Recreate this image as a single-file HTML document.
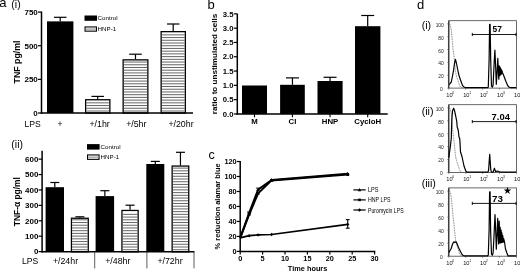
<!DOCTYPE html>
<html lang="en"><head><meta charset="utf-8"><title>Figure</title>
<style>html,body{margin:0;padding:0;background:#fff;overflow:hidden}svg{display:block}text{font-family:'Liberation Sans', Arial, Helvetica, sans-serif}</style>
</head><body>
<svg width="520" height="271" viewBox="0 0 520 271">
<defs><pattern id="hatch" width="4" height="2.06" patternUnits="userSpaceOnUse"><rect width="4" height="2.06" fill="#fff"/><rect y="0.6" width="4" height="0.85" fill="#222"/></pattern></defs>
<rect width="520" height="271" fill="#fff"/>
<g id="panel-a-i">
<text x="-0.7" y="6.8" font-size="13">a</text>
<text x="11.3" y="7.9" font-size="10.5">(i)</text>
<rect x="47.00" y="21.38" width="26.40" height="91.62" fill="#000"/>
<line x1="60.2" y1="17.3" x2="60.2" y2="21.382800000000003" stroke="#000" stroke-width="1.2"/>
<line x1="53.95" y1="17.3" x2="66.45" y2="17.3" stroke="#000" stroke-width="1.2"/>
<rect x="85.65" y="99.75" width="24.20" height="13.25" fill="#fff" stroke="#000" stroke-width="1.3"/>
<path d="M86.3,102.84H109.2M86.3,105.56H109.2M86.3,108.28H109.2M86.3,111.00H109.2" stroke="#555" stroke-width="0.9" fill="none"/>
<line x1="97.7" y1="96.4" x2="97.7" y2="99.1" stroke="#000" stroke-width="1.2"/>
<line x1="91.45" y1="96.4" x2="103.95" y2="96.4" stroke="#000" stroke-width="1.2"/>
<rect x="123.15" y="59.85" width="24.70" height="53.15" fill="#fff" stroke="#000" stroke-width="1.3"/>
<path d="M123.8,62.04H147.2M123.8,64.76H147.2M123.8,67.48H147.2M123.8,70.20H147.2M123.8,72.92H147.2M123.8,75.64H147.2M123.8,78.36H147.2M123.8,81.08H147.2M123.8,83.80H147.2M123.8,86.52H147.2M123.8,89.24H147.2M123.8,91.96H147.2M123.8,94.68H147.2M123.8,97.40H147.2M123.8,100.12H147.2M123.8,102.84H147.2M123.8,105.56H147.2M123.8,108.28H147.2M123.8,111.00H147.2" stroke="#555" stroke-width="0.9" fill="none"/>
<line x1="135.5" y1="54.2" x2="135.5" y2="59.2" stroke="#000" stroke-width="1.2"/>
<line x1="129.25" y1="54.2" x2="141.75" y2="54.2" stroke="#000" stroke-width="1.2"/>
<rect x="161.15" y="31.65" width="24.20" height="81.35" fill="#fff" stroke="#000" stroke-width="1.3"/>
<path d="M161.8,34.84H184.7M161.8,37.56H184.7M161.8,40.28H184.7M161.8,43.00H184.7M161.8,45.72H184.7M161.8,48.44H184.7M161.8,51.16H184.7M161.8,53.88H184.7M161.8,56.60H184.7M161.8,59.32H184.7M161.8,62.04H184.7M161.8,64.76H184.7M161.8,67.48H184.7M161.8,70.20H184.7M161.8,72.92H184.7M161.8,75.64H184.7M161.8,78.36H184.7M161.8,81.08H184.7M161.8,83.80H184.7M161.8,86.52H184.7M161.8,89.24H184.7M161.8,91.96H184.7M161.8,94.68H184.7M161.8,97.40H184.7M161.8,100.12H184.7M161.8,102.84H184.7M161.8,105.56H184.7M161.8,108.28H184.7M161.8,111.00H184.7" stroke="#555" stroke-width="0.9" fill="none"/>
<line x1="173.2" y1="24.0" x2="173.2" y2="31.0" stroke="#000" stroke-width="1.2"/>
<line x1="166.95" y1="24.0" x2="179.45" y2="24.0" stroke="#000" stroke-width="1.2"/>
<line x1="41.5" y1="11.499999999999995" x2="41.5" y2="113.7" stroke="#000" stroke-width="1.5"/>
<line x1="40.75" y1="113.0" x2="193" y2="113.0" stroke="#000" stroke-width="1.5"/>
<line x1="38.0" y1="113.0" x2="41.5" y2="113.0" stroke="#000" stroke-width="1.2"/>
<text x="37.8" y="115.8" font-size="8" font-weight="700" text-anchor="end">0</text>
<line x1="38.0" y1="79.36666666666667" x2="41.5" y2="79.36666666666667" stroke="#000" stroke-width="1.2"/>
<text x="37.8" y="82.16666666666667" font-size="8" font-weight="700" text-anchor="end">250</text>
<line x1="38.0" y1="45.733333333333334" x2="41.5" y2="45.733333333333334" stroke="#000" stroke-width="1.2"/>
<text x="37.8" y="48.53333333333333" font-size="8" font-weight="700" text-anchor="end">500</text>
<line x1="38.0" y1="12.099999999999994" x2="41.5" y2="12.099999999999994" stroke="#000" stroke-width="1.2"/>
<text x="37.8" y="14.899999999999995" font-size="8" font-weight="700" text-anchor="end">750</text>
<text x="19.9" y="62.0" font-size="8.8" font-weight="700" text-anchor="middle" transform="rotate(-90 19.9 62.0)">TNF pg/ml</text>
<rect x="84.50" y="15.50" width="12.50" height="5.30" fill="#000"/>
<rect x="85.05" y="26.95" width="11.40" height="4.20" fill="#fff" stroke="#000" stroke-width="1.1"/>
<line x1="85.7" y1="29.049999999999997" x2="95.8" y2="29.049999999999997" stroke="#777" stroke-width="0.9"/>
<text x="97.6" y="20.4" font-size="6.2">Control</text>
<text x="97.6" y="31.3" font-size="6.2">HNP-1</text>
<text x="24.5" y="127.2" font-size="8.6">LPS</text>
<text x="60" y="127.2" font-size="8.6" text-anchor="middle">+</text>
<text x="99.6" y="127.2" font-size="8.8" text-anchor="middle">+/1hr</text>
<text x="136.3" y="127.2" font-size="8.8" text-anchor="middle">+/5hr</text>
<text x="181" y="127.2" font-size="8.8" text-anchor="middle">+/20hr</text>
</g>
<g id="panel-a-ii">
<text x="11.3" y="147.6" font-size="10.5">(ii)</text>
<rect x="45.60" y="187.20" width="18.40" height="64.60" fill="#000"/>
<line x1="54.8" y1="182.5" x2="54.8" y2="187.2" stroke="#000" stroke-width="1.2"/>
<line x1="50.3" y1="182.5" x2="59.3" y2="182.5" stroke="#000" stroke-width="1.2"/>
<rect x="71.45" y="218.25" width="16.80" height="33.55" fill="#fff" stroke="#000" stroke-width="1.3"/>
<path d="M72.1,219.80H87.6M72.1,222.52H87.6M72.1,225.24H87.6M72.1,227.96H87.6M72.1,230.68H87.6M72.1,233.40H87.6M72.1,236.12H87.6M72.1,238.84H87.6M72.1,241.56H87.6M72.1,244.28H87.6M72.1,247.00H87.6M72.1,249.72H87.6" stroke="#555" stroke-width="0.9" fill="none"/>
<line x1="79.85" y1="216.8" x2="79.85" y2="217.6" stroke="#000" stroke-width="1.2"/>
<line x1="75.35" y1="216.8" x2="84.35" y2="216.8" stroke="#000" stroke-width="1.2"/>
<rect x="95.60" y="196.10" width="18.50" height="55.70" fill="#000"/>
<line x1="104.85" y1="190.7" x2="104.85" y2="196.1" stroke="#000" stroke-width="1.2"/>
<line x1="100.35" y1="190.7" x2="109.35" y2="190.7" stroke="#000" stroke-width="1.2"/>
<rect x="121.95" y="210.45" width="16.20" height="41.35" fill="#fff" stroke="#000" stroke-width="1.3"/>
<path d="M122.6,214.36H137.5M122.6,217.08H137.5M122.6,219.80H137.5M122.6,222.52H137.5M122.6,225.24H137.5M122.6,227.96H137.5M122.6,230.68H137.5M122.6,233.40H137.5M122.6,236.12H137.5M122.6,238.84H137.5M122.6,241.56H137.5M122.6,244.28H137.5M122.6,247.00H137.5M122.6,249.72H137.5" stroke="#555" stroke-width="0.9" fill="none"/>
<line x1="130.05" y1="205.2" x2="130.05" y2="209.8" stroke="#000" stroke-width="1.2"/>
<line x1="125.55000000000001" y1="205.2" x2="134.55" y2="205.2" stroke="#000" stroke-width="1.2"/>
<rect x="146.30" y="164.00" width="18.00" height="87.80" fill="#000"/>
<line x1="155.3" y1="161.4" x2="155.3" y2="164.0" stroke="#000" stroke-width="1.2"/>
<line x1="150.8" y1="161.4" x2="159.8" y2="161.4" stroke="#000" stroke-width="1.2"/>
<rect x="172.15" y="166.05" width="16.60" height="85.75" fill="#fff" stroke="#000" stroke-width="1.3"/>
<path d="M172.8,168.12H188.1M172.8,170.84H188.1M172.8,173.56H188.1M172.8,176.28H188.1M172.8,179.00H188.1M172.8,181.72H188.1M172.8,184.44H188.1M172.8,187.16H188.1M172.8,189.88H188.1M172.8,192.60H188.1M172.8,195.32H188.1M172.8,198.04H188.1M172.8,200.76H188.1M172.8,203.48H188.1M172.8,206.20H188.1M172.8,208.92H188.1M172.8,211.64H188.1M172.8,214.36H188.1M172.8,217.08H188.1M172.8,219.80H188.1M172.8,222.52H188.1M172.8,225.24H188.1M172.8,227.96H188.1M172.8,230.68H188.1M172.8,233.40H188.1M172.8,236.12H188.1M172.8,238.84H188.1M172.8,241.56H188.1M172.8,244.28H188.1M172.8,247.00H188.1M172.8,249.72H188.1" stroke="#555" stroke-width="0.9" fill="none"/>
<line x1="180.45" y1="152.3" x2="180.45" y2="165.4" stroke="#000" stroke-width="1.2"/>
<line x1="175.95" y1="152.3" x2="184.95" y2="152.3" stroke="#000" stroke-width="1.2"/>
<line x1="42.1" y1="150.7" x2="42.1" y2="252.5" stroke="#000" stroke-width="1.5"/>
<line x1="41.35" y1="251.8" x2="194.4" y2="251.8" stroke="#000" stroke-width="1.5"/>
<line x1="38.6" y1="251.6" x2="42.1" y2="251.6" stroke="#000" stroke-width="1.2"/>
<text x="38.4" y="254.4" font-size="8" font-weight="700" text-anchor="end">0</text>
<line x1="38.6" y1="236.19" x2="42.1" y2="236.19" stroke="#000" stroke-width="1.2"/>
<text x="38.4" y="238.99" font-size="8" font-weight="700" text-anchor="end">100</text>
<line x1="38.6" y1="220.78" x2="42.1" y2="220.78" stroke="#000" stroke-width="1.2"/>
<text x="38.4" y="223.58" font-size="8" font-weight="700" text-anchor="end">200</text>
<line x1="38.6" y1="205.37" x2="42.1" y2="205.37" stroke="#000" stroke-width="1.2"/>
<text x="38.4" y="208.17000000000002" font-size="8" font-weight="700" text-anchor="end">300</text>
<line x1="38.6" y1="189.96" x2="42.1" y2="189.96" stroke="#000" stroke-width="1.2"/>
<text x="38.4" y="192.76000000000002" font-size="8" font-weight="700" text-anchor="end">400</text>
<line x1="38.6" y1="174.55" x2="42.1" y2="174.55" stroke="#000" stroke-width="1.2"/>
<text x="38.4" y="177.35000000000002" font-size="8" font-weight="700" text-anchor="end">500</text>
<line x1="38.6" y1="159.14" x2="42.1" y2="159.14" stroke="#000" stroke-width="1.2"/>
<text x="38.4" y="161.94" font-size="8" font-weight="700" text-anchor="end">600</text>
<text x="20.2" y="201.7" font-size="8.4" font-weight="700" text-anchor="middle" transform="rotate(-90 20.2 201.7)">TNF-α pg/ml</text>
<line x1="94.7" y1="251.8" x2="94.7" y2="268.4" stroke="#333" stroke-width="0.8"/>
<line x1="146.9" y1="251.8" x2="146.9" y2="268.4" stroke="#333" stroke-width="0.8"/>
<line x1="194" y1="251.8" x2="194" y2="268.4" stroke="#333" stroke-width="0.8"/>
<rect x="87.00" y="144.10" width="12.60" height="5.50" fill="#000"/>
<rect x="87.55" y="154.95" width="11.50" height="4.40" fill="#fff" stroke="#000" stroke-width="1.1"/>
<line x1="88.2" y1="157.15" x2="98.39999999999999" y2="157.15" stroke="#777" stroke-width="0.9"/>
<text x="100.6" y="148.9" font-size="6.2">Control</text>
<text x="100.6" y="159.4" font-size="6.2">HNP-1</text>
<text x="22" y="264.0" font-size="8.6">LPS</text>
<text x="65.5" y="264.0" font-size="8.8" text-anchor="middle">+/24hr</text>
<text x="117.8" y="264.0" font-size="8.8" text-anchor="middle">+/48hr</text>
<text x="170" y="264.0" font-size="8.8" text-anchor="middle">+/72hr</text>
</g>
<g id="panel-b">
<text x="207.6" y="8.5" font-size="13">b</text>
<rect x="242.00" y="85.50" width="25.00" height="28.45" fill="#000"/>
<line x1="254.5" y1="113.95" x2="254.5" y2="117.35000000000001" stroke="#000" stroke-width="1.1"/>
<text x="254.5" y="124.0" font-size="7.8" font-weight="700" text-anchor="middle">M</text>
<rect x="280.10" y="84.80" width="24.70" height="29.15" fill="#000"/>
<line x1="292.45000000000005" y1="77.9" x2="292.45000000000005" y2="84.8" stroke="#000" stroke-width="1.2"/>
<line x1="285.95000000000005" y1="77.9" x2="298.95000000000005" y2="77.9" stroke="#000" stroke-width="1.2"/>
<line x1="292.45000000000005" y1="113.95" x2="292.45000000000005" y2="117.35000000000001" stroke="#000" stroke-width="1.1"/>
<text x="292.45000000000005" y="124.0" font-size="7.8" font-weight="700" text-anchor="middle">CI</text>
<rect x="317.50" y="81.00" width="25.10" height="32.95" fill="#000"/>
<line x1="330.05" y1="77.3" x2="330.05" y2="81" stroke="#000" stroke-width="1.2"/>
<line x1="323.55" y1="77.3" x2="336.55" y2="77.3" stroke="#000" stroke-width="1.2"/>
<line x1="330.05" y1="113.95" x2="330.05" y2="117.35000000000001" stroke="#000" stroke-width="1.1"/>
<text x="330.05" y="124.0" font-size="7.8" font-weight="700" text-anchor="middle">HNP</text>
<rect x="355.00" y="26.20" width="25.40" height="87.75" fill="#000"/>
<line x1="367.7" y1="15.5" x2="367.7" y2="26.2" stroke="#000" stroke-width="1.2"/>
<line x1="361.2" y1="15.5" x2="374.2" y2="15.5" stroke="#000" stroke-width="1.2"/>
<line x1="367.7" y1="113.95" x2="367.7" y2="117.35000000000001" stroke="#000" stroke-width="1.1"/>
<text x="367.7" y="124.0" font-size="7.8" font-weight="700" text-anchor="middle">CycloH</text>
<line x1="237.3" y1="13.7" x2="237.3" y2="114.65" stroke="#000" stroke-width="1.5"/>
<line x1="236.55" y1="113.95" x2="387.7" y2="113.95" stroke="#000" stroke-width="1.5"/>
<line x1="233.8" y1="113.95" x2="237.3" y2="113.95" stroke="#000" stroke-width="1.2"/>
<text x="233.5" y="116.65" font-size="7.7" font-weight="700" text-anchor="end">0.0</text>
<line x1="233.8" y1="99.65" x2="237.3" y2="99.65" stroke="#000" stroke-width="1.2"/>
<text x="233.5" y="102.35000000000001" font-size="7.7" font-weight="700" text-anchor="end">0.5</text>
<line x1="233.8" y1="85.35" x2="237.3" y2="85.35" stroke="#000" stroke-width="1.2"/>
<text x="233.5" y="88.05" font-size="7.7" font-weight="700" text-anchor="end">1.0</text>
<line x1="233.8" y1="71.05" x2="237.3" y2="71.05" stroke="#000" stroke-width="1.2"/>
<text x="233.5" y="73.75" font-size="7.7" font-weight="700" text-anchor="end">1.5</text>
<line x1="233.8" y1="56.75" x2="237.3" y2="56.75" stroke="#000" stroke-width="1.2"/>
<text x="233.5" y="59.45" font-size="7.7" font-weight="700" text-anchor="end">2.0</text>
<line x1="233.8" y1="42.45" x2="237.3" y2="42.45" stroke="#000" stroke-width="1.2"/>
<text x="233.5" y="45.150000000000006" font-size="7.7" font-weight="700" text-anchor="end">2.5</text>
<line x1="233.8" y1="28.14999999999999" x2="237.3" y2="28.14999999999999" stroke="#000" stroke-width="1.2"/>
<text x="233.5" y="30.84999999999999" font-size="7.7" font-weight="700" text-anchor="end">3.0</text>
<line x1="233.8" y1="13.849999999999994" x2="237.3" y2="13.849999999999994" stroke="#000" stroke-width="1.2"/>
<text x="233.5" y="16.549999999999994" font-size="7.7" font-weight="700" text-anchor="end">3.5</text>
<text x="217.0" y="64.0" font-size="8.1" font-weight="700" text-anchor="middle" transform="rotate(-90 217.0 64.0)">ratio to unstimulated cells</text>
</g>
<g id="panel-c">
<text x="208.6" y="159.1" font-size="12.5">c</text>
<line x1="240.2" y1="160.9" x2="240.2" y2="252.1" stroke="#000" stroke-width="1.5"/>
<line x1="239.45" y1="251.4" x2="375.3" y2="251.4" stroke="#000" stroke-width="1.5"/>
<line x1="236.7" y1="251.4" x2="240.2" y2="251.4" stroke="#000" stroke-width="1.2"/>
<text x="236.6" y="254.0" font-size="7.3" font-weight="700" text-anchor="end">0</text>
<line x1="236.7" y1="236.42000000000002" x2="240.2" y2="236.42000000000002" stroke="#000" stroke-width="1.2"/>
<text x="236.6" y="239.02" font-size="7.3" font-weight="700" text-anchor="end">20</text>
<line x1="236.7" y1="221.44" x2="240.2" y2="221.44" stroke="#000" stroke-width="1.2"/>
<text x="236.6" y="224.04" font-size="7.3" font-weight="700" text-anchor="end">40</text>
<line x1="236.7" y1="206.46" x2="240.2" y2="206.46" stroke="#000" stroke-width="1.2"/>
<text x="236.6" y="209.06" font-size="7.3" font-weight="700" text-anchor="end">60</text>
<line x1="236.7" y1="191.48000000000002" x2="240.2" y2="191.48000000000002" stroke="#000" stroke-width="1.2"/>
<text x="236.6" y="194.08" font-size="7.3" font-weight="700" text-anchor="end">80</text>
<line x1="236.7" y1="176.5" x2="240.2" y2="176.5" stroke="#000" stroke-width="1.2"/>
<text x="236.6" y="179.1" font-size="7.3" font-weight="700" text-anchor="end">100</text>
<line x1="236.7" y1="161.52" x2="240.2" y2="161.52" stroke="#000" stroke-width="1.2"/>
<text x="236.6" y="164.12" font-size="7.3" font-weight="700" text-anchor="end">120</text>
<line x1="240.2" y1="251.4" x2="240.2" y2="254.4" stroke="#000" stroke-width="1.2"/>
<text x="240.2" y="261.4" font-size="7.3" font-weight="700" text-anchor="middle">0</text>
<line x1="262.59999999999997" y1="251.4" x2="262.59999999999997" y2="254.4" stroke="#000" stroke-width="1.2"/>
<text x="262.59999999999997" y="261.4" font-size="7.3" font-weight="700" text-anchor="middle">5</text>
<line x1="285.0" y1="251.4" x2="285.0" y2="254.4" stroke="#000" stroke-width="1.2"/>
<text x="285.0" y="261.4" font-size="7.3" font-weight="700" text-anchor="middle">10</text>
<line x1="307.4" y1="251.4" x2="307.4" y2="254.4" stroke="#000" stroke-width="1.2"/>
<text x="307.4" y="261.4" font-size="7.3" font-weight="700" text-anchor="middle">15</text>
<line x1="329.8" y1="251.4" x2="329.8" y2="254.4" stroke="#000" stroke-width="1.2"/>
<text x="329.8" y="261.4" font-size="7.3" font-weight="700" text-anchor="middle">20</text>
<line x1="352.2" y1="251.4" x2="352.2" y2="254.4" stroke="#000" stroke-width="1.2"/>
<text x="352.2" y="261.4" font-size="7.3" font-weight="700" text-anchor="middle">25</text>
<line x1="374.6" y1="251.4" x2="374.6" y2="254.4" stroke="#000" stroke-width="1.2"/>
<text x="374.6" y="261.4" font-size="7.3" font-weight="700" text-anchor="middle">30</text>
<text x="307.6" y="270.8" font-size="7.35" font-weight="700" text-anchor="middle">Time hours</text>
<text x="219.9" y="206.4" font-size="7.45" font-weight="700" text-anchor="middle" transform="rotate(-90 219.9 206.4)">% reduction alamar blue</text>
<polyline fill="none" stroke="#000" stroke-width="2.0" stroke-linejoin="round" points="240.2,237.9 249.2,212.8 258.1,189.6 271.6,180.0 347.7,173.7"/>
<polyline fill="none" stroke="#000" stroke-width="2.0" stroke-linejoin="round" points="240.2,237.9 249.2,214.3 258.1,193.4 271.6,180.4 347.7,174.6"/>
<polyline fill="none" stroke="#000" stroke-width="1.7" stroke-linejoin="round" points="240.2,237.9 249.2,235.7 258.1,234.9 271.6,234.5 347.7,224.4"/>
<path d="M247.4,214.2 L251.0,214.2 L249.2,210.9Z"/>
<path d="M256.3,191.0 L259.9,191.0 L258.1,187.7Z"/>
<path d="M269.8,181.4 L273.4,181.4 L271.6,178.1Z"/>
<path d="M345.9,175.1 L349.5,175.1 L347.7,171.8Z"/>
<rect x="247.76" y="212.92" width="2.80" height="2.80" fill="#000"/>
<rect x="256.72" y="191.95" width="2.80" height="2.80" fill="#000"/>
<rect x="270.16" y="178.99" width="2.80" height="2.80" fill="#000"/>
<rect x="346.32" y="173.23" width="2.80" height="2.80" fill="#000"/>
<path d="M247.5,235.7 L249.2,234.0 L250.9,235.7 L249.2,237.4Z"/>
<path d="M256.4,234.9 L258.1,233.2 L259.8,234.9 L258.1,236.6Z"/>
<path d="M269.9,234.5 L271.6,232.8 L273.3,234.5 L271.6,236.2Z"/>
<path d="M346.0,224.4 L347.7,222.7 L349.4,224.4 L347.7,226.1Z"/>
<line x1="246.96" y1="212.07750000000001" x2="251.35999999999999" y2="212.07750000000001" stroke="#000" stroke-width="0.9"/>
<line x1="255.92000000000002" y1="188.1095" x2="260.32" y2="188.1095" stroke="#000" stroke-width="0.9"/>
<line x1="347.72" y1="219.6" x2="347.72" y2="228.2" stroke="#000" stroke-width="1.1"/>
<line x1="345.82000000000005" y1="219.6" x2="349.62" y2="219.6" stroke="#000" stroke-width="1.1"/>
<line x1="345.82000000000005" y1="228.2" x2="349.62" y2="228.2" stroke="#000" stroke-width="1.1"/>
<line x1="353.4" y1="189.9" x2="365.7" y2="189.9" stroke="#000" stroke-width="1.2"/>
<path d="M357.8,191.20000000000002 L361.2,191.20000000000002 L359.5,188.1Z"/>
<text x="368" y="192.4" font-size="6.8" textLength="10.6" lengthAdjust="spacingAndGlyphs">LPS</text>
<line x1="353.4" y1="199.9" x2="365.7" y2="199.9" stroke="#000" stroke-width="1.2"/>
<rect x="358.20" y="198.60" width="2.60" height="2.60" fill="#000"/>
<text x="368" y="202.4" font-size="6.8" textLength="22.4" lengthAdjust="spacingAndGlyphs">HNP LPS</text>
<line x1="353.4" y1="210" x2="365.7" y2="210" stroke="#000" stroke-width="1.2"/>
<path d="M357.8,210 L359.5,208.3 L361.2,210 L359.5,211.7Z"/>
<text x="368" y="212.5" font-size="6.8" textLength="35.6" lengthAdjust="spacingAndGlyphs">Puromycin LPS</text>
</g>
<text x="417.0" y="9.0" font-size="13">d</text>
<g id="panel-d-i">
<text x="421.7" y="28.9" font-size="10.7">(i)</text>
<rect x="448.8" y="20.7" width="67.69999999999999" height="67.39999999999999" fill="none" stroke="#444" stroke-width="0.8"/>
<line x1="448.8" y1="20.7" x2="448.8" y2="88.1" stroke="#222" stroke-width="1.0"/>
<path d="M447.0,23.90H448.8M447.8,26.47H448.8M447.8,29.04H448.8M447.8,31.60H448.8M447.8,34.17H448.8M447.0,36.74H448.8M447.8,39.31H448.8M447.8,41.88H448.8M447.8,44.44H448.8M447.8,47.01H448.8M447.0,49.58H448.8M447.8,52.15H448.8M447.8,54.72H448.8M447.8,57.28H448.8M447.8,59.85H448.8M447.0,62.42H448.8M447.8,64.99H448.8M447.8,67.56H448.8M447.8,70.12H448.8M447.8,72.69H448.8M447.0,75.26H448.8M447.8,77.83H448.8M447.8,80.40H448.8M447.8,82.96H448.8M447.8,85.53H448.8M447.0,88.10H448.8" stroke="#333" stroke-width="0.45" fill="none"/>
<text x="443.8" y="26.999999999999996" font-size="4.9" text-anchor="end" fill="#222">100</text>
<text x="443.8" y="39.839999999999996" font-size="4.9" text-anchor="end" fill="#222">80</text>
<text x="443.8" y="52.68" font-size="4.9" text-anchor="end" fill="#222">60</text>
<text x="443.8" y="65.02" font-size="4.9" text-anchor="end" fill="#222">40</text>
<text x="443.8" y="77.86" font-size="4.9" text-anchor="end" fill="#222">20</text>
<text x="442.8" y="90.7" font-size="4.9" text-anchor="end" fill="#222">0</text>
<line x1="448.8" y1="88.1" x2="448.8" y2="89.69999999999999" stroke="#333" stroke-width="0.5"/>
<text x="446.3" y="96.9" font-size="5.7" fill="#111">10<tspan dx="-0.4" dy="-3.4" font-size="3.3">0</tspan></text>
<line x1="465.725" y1="88.1" x2="465.725" y2="89.69999999999999" stroke="#333" stroke-width="0.5"/>
<text x="463.2" y="96.9" font-size="5.7" fill="#111">10<tspan dx="-0.4" dy="-3.4" font-size="3.3">1</tspan></text>
<line x1="482.65" y1="88.1" x2="482.65" y2="89.69999999999999" stroke="#333" stroke-width="0.5"/>
<text x="480.1" y="96.9" font-size="5.7" fill="#111">10<tspan dx="-0.4" dy="-3.4" font-size="3.3">2</tspan></text>
<line x1="499.575" y1="88.1" x2="499.575" y2="89.69999999999999" stroke="#333" stroke-width="0.5"/>
<text x="497.1" y="96.9" font-size="5.7" fill="#111">10<tspan dx="-0.4" dy="-3.4" font-size="3.3">3</tspan></text>
<line x1="516.5" y1="88.1" x2="516.5" y2="89.69999999999999" stroke="#333" stroke-width="0.5"/>
<text x="514.0" y="96.9" font-size="5.7" fill="#111">10<tspan dx="-0.4" dy="-3.4" font-size="3.3">4</tspan></text>
<polyline fill="none" stroke="#555" stroke-width="0.8" stroke-dasharray="0.9 0.8" points="449.3,22.5 450.3,25.7 451.2,29.2 452.0,37.7 453.0,48.7 454.0,56.7 455.5,71.7 456.5,76.2 457.7,79.7 459.4,85.2 460.6,87.2 462.0,87.9 464.0,88.0"/>
<polyline fill="none" stroke="#000" stroke-width="1.2" stroke-linejoin="round" points="449.2,84.5 450.0,83.6 451.3,82.0 452.5,76.0 453.6,70.0 454.5,63.5 455.4,59.4 456.3,62.5 457.8,70.0 459.0,75.5 460.5,80.0 462.5,85.4 464.0,87.0 465.5,87.7 487.6,87.7 488.3,87.0 489.1,60.0 489.6,24.3 490.1,24.3 490.7,60.0 491.5,86.0 492.3,87.2 493.1,85.0 493.9,68.0 494.9,50.0 495.7,68.0 496.3,84.3 497.0,74.0 497.8,58.4 498.4,72.0 498.8,79.2 498.9,76.5 499.2,65.8 499.6,75.8 499.9,67.0 500.2,75.2 500.6,68.1 500.9,74.5 501.2,69.3 501.6,73.8 501.9,70.5 502.4,72.5 504.0,76.3 506.0,81.8 507.8,85.8 509.3,87.2 510.8,87.7 516.2,87.7"/>
<line x1="472.1" y1="34.5" x2="516.3" y2="34.5" stroke="#000" stroke-width="0.9"/>
<line x1="472.3" y1="32.9" x2="472.3" y2="36.1" stroke="#000" stroke-width="0.9"/>
<line x1="516.0" y1="32.9" x2="516.0" y2="36.1" stroke="#000" stroke-width="0.9"/>
<text x="492.5" y="31.8" font-size="8.4" font-weight="700">57</text>
</g>
<g id="panel-d-ii">
<text x="421.7" y="114.7" font-size="10.7">(ii)</text>
<rect x="448.8" y="104.7" width="67.69999999999999" height="67.8" fill="none" stroke="#444" stroke-width="0.8"/>
<line x1="448.8" y1="104.7" x2="448.8" y2="172.5" stroke="#222" stroke-width="1.0"/>
<path d="M447.0,107.90H448.8M447.8,110.48H448.8M447.8,113.07H448.8M447.8,115.65H448.8M447.8,118.24H448.8M447.0,120.82H448.8M447.8,123.40H448.8M447.8,125.99H448.8M447.8,128.57H448.8M447.8,131.16H448.8M447.0,133.74H448.8M447.8,136.32H448.8M447.8,138.91H448.8M447.8,141.49H448.8M447.8,144.08H448.8M447.0,146.66H448.8M447.8,149.24H448.8M447.8,151.83H448.8M447.8,154.41H448.8M447.8,157.00H448.8M447.0,159.58H448.8M447.8,162.16H448.8M447.8,164.75H448.8M447.8,167.33H448.8M447.8,169.92H448.8M447.0,172.50H448.8" stroke="#333" stroke-width="0.45" fill="none"/>
<text x="443.8" y="111.00000000000001" font-size="4.9" text-anchor="end" fill="#222">100</text>
<text x="443.8" y="123.92000000000002" font-size="4.9" text-anchor="end" fill="#222">80</text>
<text x="443.8" y="136.84" font-size="4.9" text-anchor="end" fill="#222">60</text>
<text x="443.8" y="149.26" font-size="4.9" text-anchor="end" fill="#222">40</text>
<text x="443.8" y="162.17999999999998" font-size="4.9" text-anchor="end" fill="#222">20</text>
<text x="442.8" y="175.1" font-size="4.9" text-anchor="end" fill="#222">0</text>
<line x1="448.8" y1="172.5" x2="448.8" y2="174.1" stroke="#333" stroke-width="0.5"/>
<text x="446.3" y="181.3" font-size="5.7" fill="#111">10<tspan dx="-0.4" dy="-3.4" font-size="3.3">0</tspan></text>
<line x1="465.725" y1="172.5" x2="465.725" y2="174.1" stroke="#333" stroke-width="0.5"/>
<text x="463.2" y="181.3" font-size="5.7" fill="#111">10<tspan dx="-0.4" dy="-3.4" font-size="3.3">1</tspan></text>
<line x1="482.65" y1="172.5" x2="482.65" y2="174.1" stroke="#333" stroke-width="0.5"/>
<text x="480.1" y="181.3" font-size="5.7" fill="#111">10<tspan dx="-0.4" dy="-3.4" font-size="3.3">2</tspan></text>
<line x1="499.575" y1="172.5" x2="499.575" y2="174.1" stroke="#333" stroke-width="0.5"/>
<text x="497.1" y="181.3" font-size="5.7" fill="#111">10<tspan dx="-0.4" dy="-3.4" font-size="3.3">3</tspan></text>
<line x1="516.5" y1="172.5" x2="516.5" y2="174.1" stroke="#333" stroke-width="0.5"/>
<text x="514.0" y="181.3" font-size="5.7" fill="#111">10<tspan dx="-0.4" dy="-3.4" font-size="3.3">4</tspan></text>
<polyline fill="none" stroke="#555" stroke-width="0.8" stroke-dasharray="0.9 0.8" points="449.3,106.5 450.3,109.7 451.2,113.3 452.0,121.8 453.0,132.9 454.0,140.9 455.5,156.0 456.5,160.5 457.7,164.1 459.4,169.6 460.6,171.6 462.0,172.3 464.0,172.4"/>
<polyline fill="none" stroke="#000" stroke-width="1.2" stroke-linejoin="round" points="449.0,157.5 449.3,153.5 450.3,147.0 451.3,138.0 451.5,130.0 451.8,120.0 452.5,111.0 453.6,108.2 454.5,110.5 455.5,115.1 456.7,121.0 457.2,127.0 458.2,130.0 459.0,137.0 459.8,139.0 460.5,151.8 462.1,157.0 464.0,166.0 465.9,171.2 467.2,172.2 488.0,172.2 488.6,170.0 489.7,154.4 490.8,170.0 491.6,172.2 493.2,172.2 494.4,168.2 495.6,171.6 497.5,171.0 499.5,171.8 501.0,172.2 516.2,172.2"/>
<line x1="472.1" y1="121.6" x2="516.3" y2="121.6" stroke="#000" stroke-width="0.9"/>
<line x1="472.3" y1="120.0" x2="472.3" y2="123.19999999999999" stroke="#000" stroke-width="0.9"/>
<line x1="516.0" y1="120.0" x2="516.0" y2="123.19999999999999" stroke="#000" stroke-width="0.9"/>
<text x="491.6" y="119.7" font-size="9.4" font-weight="700">7.04</text>
</g>
<g id="panel-d-iii">
<text x="421.7" y="186.9" font-size="10.7">(iii)</text>
<rect x="448.8" y="187.9" width="67.69999999999999" height="68.29999999999998" fill="none" stroke="#444" stroke-width="0.8"/>
<line x1="448.8" y1="187.9" x2="448.8" y2="256.2" stroke="#222" stroke-width="1.0"/>
<path d="M447.0,191.10H448.8M447.8,193.70H448.8M447.8,196.31H448.8M447.8,198.91H448.8M447.8,201.52H448.8M447.0,204.12H448.8M447.8,206.72H448.8M447.8,209.33H448.8M447.8,211.93H448.8M447.8,214.54H448.8M447.0,217.14H448.8M447.8,219.74H448.8M447.8,222.35H448.8M447.8,224.95H448.8M447.8,227.56H448.8M447.0,230.16H448.8M447.8,232.76H448.8M447.8,235.37H448.8M447.8,237.97H448.8M447.8,240.58H448.8M447.0,243.18H448.8M447.8,245.78H448.8M447.8,248.39H448.8M447.8,250.99H448.8M447.8,253.60H448.8M447.0,256.20H448.8" stroke="#333" stroke-width="0.45" fill="none"/>
<text x="443.8" y="194.2" font-size="4.9" text-anchor="end" fill="#222">100</text>
<text x="443.8" y="207.22" font-size="4.9" text-anchor="end" fill="#222">80</text>
<text x="443.8" y="220.23999999999998" font-size="4.9" text-anchor="end" fill="#222">60</text>
<text x="443.8" y="232.76" font-size="4.9" text-anchor="end" fill="#222">40</text>
<text x="443.8" y="245.78" font-size="4.9" text-anchor="end" fill="#222">20</text>
<text x="442.8" y="258.79999999999995" font-size="4.9" text-anchor="end" fill="#222">0</text>
<line x1="448.8" y1="256.2" x2="448.8" y2="257.8" stroke="#333" stroke-width="0.5"/>
<text x="446.3" y="265.0" font-size="5.7" fill="#111">10<tspan dx="-0.4" dy="-3.4" font-size="3.3">0</tspan></text>
<line x1="465.725" y1="256.2" x2="465.725" y2="257.8" stroke="#333" stroke-width="0.5"/>
<text x="463.2" y="265.0" font-size="5.7" fill="#111">10<tspan dx="-0.4" dy="-3.4" font-size="3.3">1</tspan></text>
<line x1="482.65" y1="256.2" x2="482.65" y2="257.8" stroke="#333" stroke-width="0.5"/>
<text x="480.1" y="265.0" font-size="5.7" fill="#111">10<tspan dx="-0.4" dy="-3.4" font-size="3.3">2</tspan></text>
<line x1="499.575" y1="256.2" x2="499.575" y2="257.8" stroke="#333" stroke-width="0.5"/>
<text x="497.1" y="265.0" font-size="5.7" fill="#111">10<tspan dx="-0.4" dy="-3.4" font-size="3.3">3</tspan></text>
<line x1="516.5" y1="256.2" x2="516.5" y2="257.8" stroke="#333" stroke-width="0.5"/>
<text x="514.0" y="265.0" font-size="5.7" fill="#111">10<tspan dx="-0.4" dy="-3.4" font-size="3.3">4</tspan></text>
<polyline fill="none" stroke="#555" stroke-width="0.8" stroke-dasharray="0.9 0.8" points="449.3,189.7 450.3,193.0 451.2,196.5 452.0,205.1 453.0,216.3 454.0,224.4 455.5,239.6 456.5,244.1 457.7,247.7 459.4,253.3 460.6,255.3 462.0,256.0 464.0,256.1"/>
<polyline fill="none" stroke="#000" stroke-width="1.2" stroke-linejoin="round" points="449.0,252.5 450.0,250.5 451.2,248.5 452.4,244.5 453.6,241.9 454.8,242.4 456.0,241.7 457.0,243.6 458.5,247.5 460.2,251.0 461.5,253.6 462.8,255.2 464.2,255.8 487.6,255.8 488.3,255.0 489.1,230.0 489.6,191.8 490.1,191.8 490.6,230.0 491.5,254.2 492.3,255.2 493.1,253.0 494.0,236.0 495.0,214.5 495.9,236.0 496.3,249.2 497.0,236.0 497.7,218.3 498.3,236.0 498.6,244.0 499.2,221.0 499.7,240.0 499.8,243.0 500.2,227.4 500.6,242.8 501.1,230.2 501.5,242.6 501.9,232.9 502.3,242.3 502.8,235.7 503.2,242.1 503.6,238.5 504.6,242.5 505.4,248.5 506.7,252.5 508.0,255.8 516.2,255.8"/>
<line x1="472.1" y1="203.4" x2="516.3" y2="203.4" stroke="#000" stroke-width="0.9"/>
<line x1="472.3" y1="201.8" x2="472.3" y2="205.0" stroke="#000" stroke-width="0.9"/>
<line x1="516.0" y1="201.8" x2="516.0" y2="205.0" stroke="#000" stroke-width="0.9"/>
<text x="492.1" y="202.2" font-size="9.8" font-weight="700">73</text>
<text x="507.7" y="194.0" font-size="9.6" text-anchor="middle">★</text>
</g>
</svg></body></html>
